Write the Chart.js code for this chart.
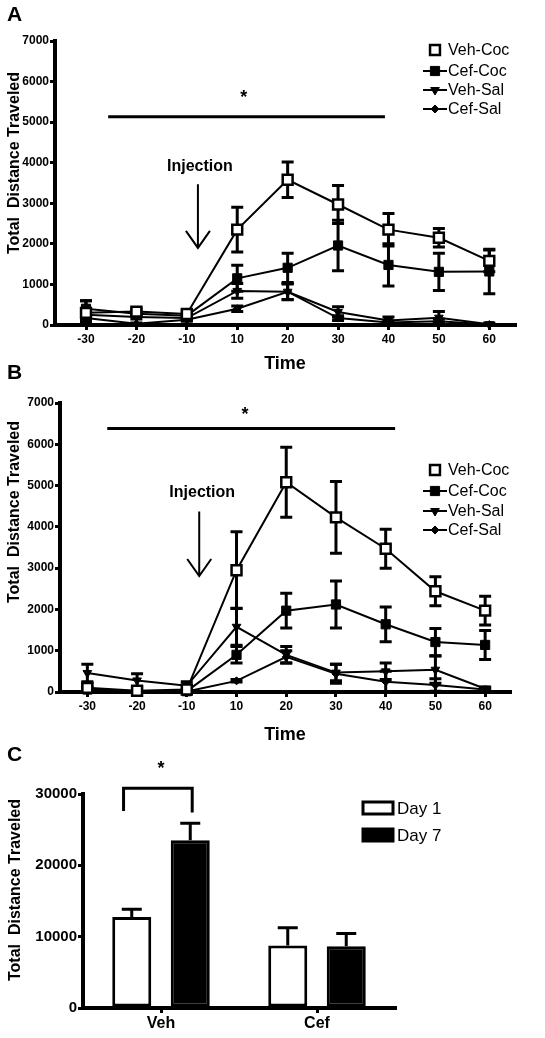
<!DOCTYPE html>
<html>
<head>
<meta charset="utf-8">
<script src="https://cdn.jsdelivr.net/npm/chart.js"></script>
<style>
body { margin:0; background:#fff; width:545px; height:1038px; position:relative; overflow:hidden; font-family:"Liberation Sans", Arial, sans-serif; }
canvas { position:absolute; left:0; }
.panel { position:absolute; left:7px; font-weight:bold; font-size:21px; line-height:24px; }
</style>
</head>
<body>
<canvas id="chartA" width="545" height="375" style="top:0"></canvas>
<canvas id="chartB" width="545" height="380" style="top:375px"></canvas>
<canvas id="chartC" width="545" height="283" style="top:755px"></canvas>
<div class="panel" style="top:2px">A</div>
<div class="panel" style="top:360px">B</div>
<div class="panel" style="top:742px">C</div>
<script>
const timeLabels = ["-30", "-20", "-10", "10", "20", "30", "40", "50", "60"];
const seriesNames = ["Veh-Coc", "Cef-Coc", "Veh-Sal", "Cef-Sal"];
const yTitle = "Total  Distance Traveled";

// panel A
const vehCocA = [300, 330, 270, 2350, 3580, 2970, 2350, 2150, 1580];
const vehCocAErr = [300, 80, 80, 550, 440, 470, 400, 230, 270];
const cefCocA = [400, 280, 230, 1150, 1410, 1960, 1480, 1310, 1320];
const cefCocAErr = [200, 60, 60, 320, 360, 620, 520, 460, 550];
const vehSalA = [250, 200, 170, 840, 820, 320, 110, 180, 20];
const vehSalAErr = [120, 50, 50, 180, 200, 130, 90, 150, 30];
const cefSalA = [170, 30, 130, 400, 820, 170, 60, 90, 10];
const cefSalAErr = [100, 20, 40, 70, 190, 60, 40, 50, 10];

// panel B
const vehCocB = [100, 30, 60, 2950, 5080, 4230, 3470, 2440, 1970];
const vehCocBErr = [120, 80, 100, 930, 850, 870, 470, 350, 350];
const cefCocB = [60, 20, 20, 900, 1970, 2120, 1640, 1210, 1140];
const cefCocBErr = [60, 40, 40, 200, 420, 570, 420, 330, 350];
const vehSalB = [460, 280, 150, 1580, 900, 470, 500, 540, 80];
const vehSalBErr = [210, 160, 100, 450, 200, 200, 200, 330, 40];
const cefSalB = [80, 10, 10, 270, 850, 440, 250, 170, 60];
const cefSalBErr = [50, 20, 20, 30, 150, 230, 250, 150, 30];

// panel C
const groups = ["Veh", "Cef"];
const day1 = [12750, 8750];
const day1Err = [1100, 2500];
const day7 = [23500, 8650];
const day7Err = [2400, 1800];

const FONT = '"Liberation Sans", Arial, sans-serif';
Chart.defaults.font.family = FONT;
Chart.defaults.color = "#000";

const markers = [
  { style: "rect", radius: 7, bg: "#fff", bw: 2.5, rot: 0 },
  { style: "rect", radius: 6.5, bg: "#000", bw: 1, rot: 0 },
  { style: "triangle", radius: 5, bg: "#000", bw: 1, rot: 180 },
  { style: "rectRot", radius: 4, bg: "#000", bw: 1, rot: 0 }
];

function drawMarker(ctx, m, x, y) {
  const r = m.radius;
  ctx.beginPath();
  if (m.style === "rect") {
    const s = r * Math.SQRT1_2;
    ctx.rect(x - s, y - s, 2 * s, 2 * s);
  } else if (m.style === "rectRot") {
    ctx.moveTo(x, y - r); ctx.lineTo(x + r, y); ctx.lineTo(x, y + r); ctx.lineTo(x - r, y);
    ctx.closePath();
  } else {
    ctx.moveTo(x, y + r);
    ctx.lineTo(x - r * 0.866, y - r / 2);
    ctx.lineTo(x + r * 0.866, y - r / 2);
    ctx.closePath();
  }
  ctx.fillStyle = m.bg; ctx.fill();
  ctx.lineWidth = m.bw; ctx.strokeStyle = "#000"; ctx.stroke();
}

// error bars, drawn under the points
const errorBars = {
  id: "errorBars",
  beforeDatasetsDraw(chart) {
    const ctx = chart.ctx;
    chart.data.datasets.forEach((ds, di) => {
      if (!ds.errors) return;
      const meta = chart.getDatasetMeta(di);
      const ys = chart.scales[meta.yAxisID];
      ctx.save();
      ctx.strokeStyle = "#000";
      ctx.lineWidth = ds.errWidth || 3;
      const cap = ds.capHalf || 6;
      meta.data.forEach((el, i) => {
        const d = ds.data[i];
        const v = typeof d === "object" ? d.y : d;
        const e = ds.errors[i];
        const top = ys.getPixelForValue(v + e);
        const bot = ds.upOnly ? ys.getPixelForValue(v) : ys.getPixelForValue(Math.max(v - e, 0));
        ctx.beginPath();
        ctx.moveTo(el.x, top); ctx.lineTo(el.x, bot);
        ctx.moveTo(el.x - cap, top); ctx.lineTo(el.x + cap, top);
        if (!ds.upOnly) { ctx.moveTo(el.x - cap, bot); ctx.lineTo(el.x + cap, bot); }
        ctx.stroke();
      });
      ctx.restore();
    });
  }
};

// axis title, significance bars, arrows, legends
const marks = {
  id: "marks",
  afterDraw(chart, args, o) {
    const ctx = chart.ctx, xs = chart.scales.x, ys = chart.scales.y;
    ctx.save();
    ctx.strokeStyle = "#000"; ctx.fillStyle = "#000";
    if (o.ytitle) {
      ctx.save();
      ctx.translate(o.ytitle.x, o.ytitle.y);
      ctx.rotate(-Math.PI / 2);
      ctx.font = "bold 16px " + FONT;
      ctx.textAlign = "center"; ctx.textBaseline = "middle";
      ctx.fillText(yTitle, 0, 0);
      ctx.restore();
    }
    if (o.sig) {
      ctx.lineWidth = 3;
      ctx.beginPath();
      ctx.moveTo(xs.getPixelForValue(o.sig.x0), ys.getPixelForValue(o.sig.y));
      ctx.lineTo(xs.getPixelForValue(o.sig.x1), ys.getPixelForValue(o.sig.y));
      ctx.stroke();
    }
    if (o.bracket) {
      const b = o.bracket;
      ctx.lineWidth = 3;
      ctx.beginPath();
      ctx.moveTo(xs.getPixelForValue(b.x0), ys.getPixelForValue(b.y0));
      ctx.lineTo(xs.getPixelForValue(b.x0), ys.getPixelForValue(b.y));
      ctx.lineTo(xs.getPixelForValue(b.x1), ys.getPixelForValue(b.y));
      ctx.lineTo(xs.getPixelForValue(b.x1), ys.getPixelForValue(b.y1));
      ctx.stroke();
    }
    if (o.star) {
      ctx.font = "bold 18px " + FONT;
      ctx.textAlign = "center"; ctx.textBaseline = "middle";
      ctx.fillText("*", xs.getPixelForValue(o.star.x), ys.getPixelForValue(o.star.y));
    }
    if (o.inj) {
      const j = o.inj;
      ctx.font = "bold 16px " + FONT;
      ctx.textAlign = "center"; ctx.textBaseline = "middle";
      ctx.fillText("Injection", xs.getPixelForValue(j.tx), ys.getPixelForValue(j.ty));
      const ax = xs.getPixelForValue(j.x), at = ys.getPixelForValue(j.top), ab = ys.getPixelForValue(j.bottom);
      ctx.lineWidth = 2;
      ctx.beginPath();
      ctx.moveTo(ax, at); ctx.lineTo(ax, ab);
      ctx.moveTo(ax - 12, ab - 17); ctx.lineTo(ax, ab); ctx.lineTo(ax + 12, ab - 17);
      ctx.stroke();
    }
    if (o.key) {
      const k = o.key;
      ctx.font = k.font + "px " + FONT;
      ctx.textAlign = "left"; ctx.textBaseline = "middle";
      chart.data.datasets.forEach((ds, i) => {
        const y = k.rows[i];
        if (k.boxes) {
          ctx.fillStyle = ds.backgroundColor;
          ctx.fillRect(k.x0, y - 6, k.x1 - k.x0, 12);
          ctx.lineWidth = 3; ctx.strokeStyle = "#000";
          ctx.strokeRect(k.x0, y - 6, k.x1 - k.x0, 12);
        } else {
          if (i > 0) {
            ctx.lineWidth = 2; ctx.strokeStyle = "#000";
            ctx.beginPath(); ctx.moveTo(k.x0, y); ctx.lineTo(k.x1, y); ctx.stroke();
          }
          drawMarker(ctx, markers[i], k.mx, y);
        }
        ctx.fillStyle = "#000";
        ctx.fillText(ds.label, k.tx, y + 1);
      });
    }
    ctx.restore();
  }
};

function lineChart(id, series, errors, o) {
  return new Chart(document.getElementById(id), {
    type: "line",
    data: {
      datasets: series.map((vals, s) => ({
        label: seriesNames[s],
        data: vals.map((v, i) => ({ x: i, y: v })),
        errors: errors[s],
        borderColor: "#000",
        borderWidth: 2,
        pointStyle: markers[s].style,
        pointRadius: markers[s].radius,
        pointHoverRadius: markers[s].radius,
        pointRotation: markers[s].rot,
        pointBackgroundColor: markers[s].bg,
        pointBorderColor: "#000",
        pointBorderWidth: markers[s].bw,
        tension: 0,
        clip: false
      }))
    },
    options: {
      responsive: false,
      animation: false,
      events: [],
      layout: { padding: { top: o.top, right: o.right, left: 0, bottom: 0 } },
      plugins: {
        legend: { display: false },
        tooltip: { enabled: false },
        marks: o.marks
      },
      scales: {
        x: {
          type: "linear",
          min: o.xmin,
          max: o.xmax,
          afterBuildTicks: (s) => { s.ticks = timeLabels.map((t, i) => ({ value: i })); },
          afterFit: (s) => { s.height = o.xh; },
          ticks: { callback: (v) => timeLabels[v], font: { size: 12, weight: "bold" }, maxRotation: 0, autoSkip: false, padding: 2 },
          grid: { drawOnChartArea: false, drawTicks: true, tickLength: 5, lineWidth: 3, color: "#000" },
          border: { color: "#000", width: 4 },
          title: { display: true, text: "Time", font: { size: 18, weight: "bold" }, padding: { top: 0, bottom: o.titlePad } }
        },
        y: {
          min: 0,
          max: 7000,
          afterFit: (s) => { s.width = o.yw; },
          ticks: { stepSize: 1000, callback: (v) => String(v), font: { size: 12, weight: "bold" }, padding: 1 },
          grid: { drawOnChartArea: false, drawTicks: true, tickLength: 5, lineWidth: 3, color: "#000" },
          border: { color: "#000", width: 4 }
        }
      }
    },
    plugins: [errorBars, marks]
  });
}

lineChart("chartA",
  [vehCocA, cefCocA, vehSalA, cefSalA],
  [vehCocAErr, cefCocAErr, vehSalAErr, cefSalAErr],
  {
    top: 41, right: 30, xh: 50, yw: 55, xmin: -0.615, xmax: 8.51, titlePad: 0,
    marks: {
      ytitle: { x: 15, y: 163 },
      sig: { x0: 0.44, x1: 5.93, y: 5130 },
      star: { x: 3.13, y: 5590 },
      inj: { tx: 2.26, ty: 3916, x: 2.22, top: 3470, bottom: 1900 },
      key: { x0: 423, x1: 447, mx: 435, tx: 448, font: 16, rows: [50, 71, 90, 109] }
    }
  });

lineChart("chartB",
  [vehCocB, cefCocB, vehSalB, cefSalB],
  [vehCocBErr, cefCocBErr, vehSalBErr, cefSalBErr],
  {
    top: 28, right: 35, xh: 63, yw: 60, xmin: -0.55, xmax: 8.5, titlePad: 9,
    marks: {
      ytitle: { x: 15, y: 137 },
      sig: { x0: 0.40, x1: 6.19, y: 6380 },
      star: { x: 3.17, y: 6700 },
      inj: { tx: 2.31, ty: 4820, x: 2.25, top: 4370, bottom: 2810 },
      key: { x0: 423, x1: 447, mx: 435, tx: 448, font: 16, rows: [95, 116, 136, 155] }
    }
  });

new Chart(document.getElementById("chartC"), {
  type: "bar",
  data: {
    labels: groups,
    datasets: [
      { label: "Day 1", data: day1, errors: day1Err, upOnly: true, capHalf: 10,
        backgroundColor: "#fff", borderColor: "#000", borderWidth: 3, borderSkipped: false,
        categoryPercentage: 0.75, barPercentage: 0.667 },
      { label: "Day 7", data: day7, errors: day7Err, upOnly: true, capHalf: 10,
        backgroundColor: "#000", borderColor: "#000", borderWidth: 3, borderSkipped: false,
        categoryPercentage: 0.75, barPercentage: 0.667 }
    ]
  },
  options: {
    responsive: false,
    animation: false,
    events: [],
    layout: { padding: { top: 39, right: 150, left: 0, bottom: 0 } },
    plugins: {
      legend: { display: false },
      tooltip: { enabled: false },
      marks: {
        ytitle: { x: 16, y: 135 },
        bracket: { x0: -0.24, x1: 0.2, y: 30800, y0: 27600, y1: 27400 },
        star: { x: 0, y: 33480 },
        key: { boxes: true, x0: 363, x1: 393, tx: 397, font: 17, rows: [53, 80] }
      }
    },
    scales: {
      x: {
        afterFit: (s) => { s.height = 30; },
        ticks: { font: { size: 16, weight: "bold" }, padding: 1 },
        grid: { drawOnChartArea: false, drawTicks: true, tickLength: 5, lineWidth: 3, color: "#000", offset: false },
        border: { color: "#000", width: 4 }
      },
      y: {
        min: 0,
        max: 30000,
        afterFit: (s) => { s.width = 83; },
        ticks: { stepSize: 10000, callback: (v) => String(v), font: { size: 15, weight: "bold" }, padding: 1 },
        grid: { drawOnChartArea: false, drawTicks: true, tickLength: 5, lineWidth: 3, color: "#000" },
        border: { color: "#000", width: 4 }
      }
    }
  },
  plugins: [errorBars, marks]
});
</script>
</body>
</html>
